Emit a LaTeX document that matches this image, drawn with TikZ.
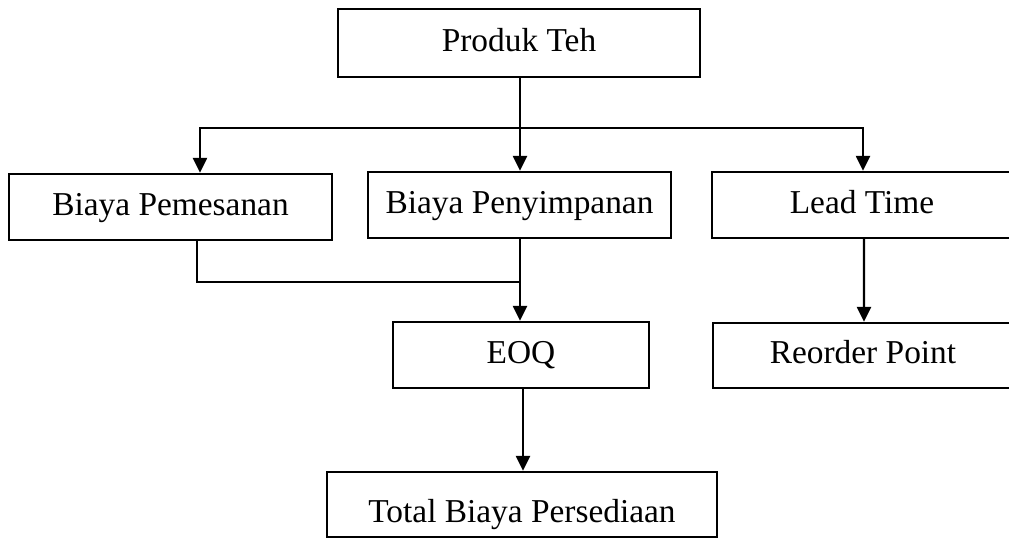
\documentclass[tikz,border=0pt]{standalone}
\usepackage{fontspec}
\setmainfont{Liberation Serif}
\usetikzlibrary{arrows.meta}
\tikzset{
    kotak/.style={draw, line width=1.35pt, inner sep=0pt, text height=0.5cm, text depth=0.18cm,
        font=\fontsize{19}{23}\selectfont},
    panah/.style={line width=1.35pt, -{Triangle[length=0.3cm, width=0.28cm]}},
    garis/.style={line width=1.35pt},
}

\begin{document}
\begin{tikzpicture}[x=0.02cm, y=-0.02cm]
    \clip (0,0) rectangle (1009,538);
    \node [kotak, minimum width=7.24cm, minimum height=1.36cm] (produk) at (519,43) {Produk Teh};
    \node [kotak, minimum width=6.46cm, minimum height=1.32cm] (pesan) at (170.5,207) {Biaya Pemesanan};
    \node [kotak, minimum width=6.06cm, minimum height=1.32cm] (simpan) at (519.5,205) {Biaya Penyimpanan};
    \node [kotak, minimum width=6cm, minimum height=1.32cm] (lead) at (862,205) {Lead Time};
    \node [kotak, minimum width=5.12cm, minimum height=1.32cm] (eoq) at (521,355) {EOQ};
    \node [kotak, minimum width=6cm, minimum height=1.3cm] (rop) at (863,355.5) {Reorder Point};
    \node [kotak, minimum width=7.8cm, minimum height=1.3cm, text height=0.8cm, text depth=0.1cm]
        (total) at (522,504.5) {Total Biaya Persediaan};

    \coordinate (cabang) at (520,128);
    \coordinate (gabung) at (520,282);
    \coordinate (turun) at (523,430);
    \draw [panah] (produk.south -| cabang) -- (simpan.north -| cabang);
    \draw [panah] (cabang) -| ([xshift=0.59cm]pesan.north);
    \draw [panah] (cabang) -| ([xshift=0.02cm]lead.north);
    \draw [garis] ([xshift=0.53cm]pesan.south) |- (gabung);
    \draw [panah] (simpan.south -| gabung) -- (eoq.north -| gabung);
    \draw [panah] (eoq.south -| turun) -- (total.north -| turun);
    \draw [panah] ([xshift=0.04cm]lead.south) -- ([xshift=0.02cm]rop.north);
\end{tikzpicture}
\end{document}
